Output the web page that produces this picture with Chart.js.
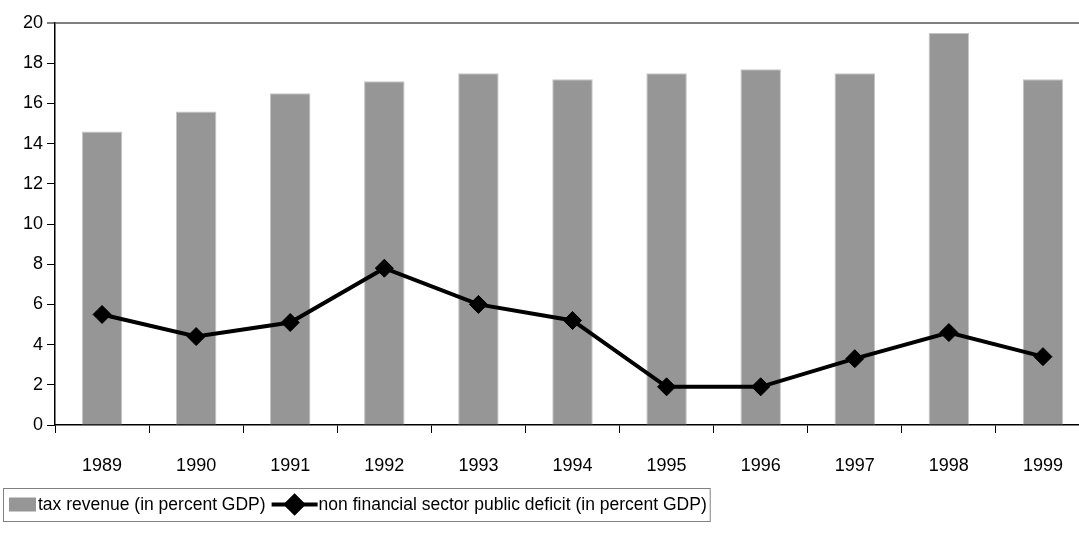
<!DOCTYPE html>
<html>
<head>
<meta charset="utf-8">
<script src="https://cdn.jsdelivr.net/npm/chart.js@4"></script>
<style>
  html, body { margin:0; padding:0; background:#fff; overflow:hidden; }
  #wrap { width:1079px; height:533px; overflow:hidden; }
  canvas { display:block; }
</style>
</head>
<body>
<div id="wrap"><canvas id="ch" width="1100" height="533"></canvas></div>
<script>
const years = ['1989','1990','1991','1992','1993','1994','1995','1996','1997','1998','1999'];
const taxRevenue = [14.6, 15.6, 16.5, 17.1, 17.5, 17.2, 17.5, 17.7, 17.5, 19.5, 17.2];
const publicDeficit = [5.5, 4.4, 5.1, 7.8, 6.0, 5.2, 1.9, 1.9, 3.3, 4.6, 3.4];
const yTicks = [0, 2, 4, 6, 8, 10, 12, 14, 16, 18, 20];

const FAMILY = '"Liberation Sans", Arial, sans-serif';
const TICK_FONT = { family:FAMILY, size:18 };
const LEGEND_SIZE = 17.5;
const BAR_GRAY = '#969696';

// framed legend under the axis: bar swatch first, then the line with a diamond
const boxLegend = {
  id:'boxLegend',
  afterDraw(chart){
    const ctx = chart.ctx;
    const bar = chart.data.datasets.find(d => d.type === 'bar');
    const line = chart.data.datasets.find(d => d.type === 'line');
    const x0 = 4, y0 = 488, h = 33, cy = y0 + h/2;
    ctx.save();
    ctx.font = LEGEND_SIZE + 'px ' + FAMILY;
    ctx.textBaseline = 'middle';
    let x = x0 + 5;
    ctx.fillStyle = BAR_GRAY;
    ctx.fillRect(x, cy - 7, 27, 14);
    x += 29;
    ctx.fillStyle = '#000';
    ctx.fillText(bar.label, x, cy + 1);
    x += ctx.measureText(bar.label).width + 6;
    ctx.strokeStyle = '#000';
    ctx.lineWidth = 4;
    ctx.beginPath(); ctx.moveTo(x, cy); ctx.lineTo(x + 46, cy); ctx.stroke();
    Chart.helpers.drawPoint(ctx, { pointStyle:'rectRot', radius:8.5, rotation:0, borderWidth:1 }, x + 23, cy);
    ctx.fill();
    x += 47;
    ctx.fillText(line.label, x, cy + 1);
    x += ctx.measureText(line.label).width + 4;
    ctx.strokeStyle = '#808080';
    ctx.lineWidth = 1;
    ctx.strokeRect(x0 - 0.5, y0 + 0.5, x - x0, h);
    ctx.restore();
  }
};

new Chart(document.getElementById('ch'), {
  data:{
    labels: years,
    datasets:[
      { type:'line', label:'non financial sector public deficit (in percent GDP)', data: publicDeficit,
        borderColor:'#000', borderWidth:4, tension:0, fill:false,
        pointStyle:'rectRot', pointRadius:9, pointBackgroundColor:'#000', pointBorderColor:'#000', pointBorderWidth:1, order:0 },
      { type:'bar', label:'tax revenue (in percent GDP)', data: taxRevenue,
        backgroundColor: BAR_GRAY, borderColor:'#c4c4c4', borderWidth:1, borderSkipped:'bottom',
        categoryPercentage:1, barPercentage:0.43, order:1 }
    ]
  },
  options:{
    responsive:false, animation:false, devicePixelRatio:1,
    layout:{ padding:{ top:23, right:7, left:0, bottom:0 } },
    plugins:{ legend:{ display:false }, tooltip:{ enabled:false } },
    scales:{
      x:{
        offset:true,
        grid:{ offset:true, drawOnChartArea:false, tickLength:8, tickColor:'#000', tickWidth:1 },
        border:{ display:true, color:'#000', width:1.5 },
        ticks:{ color:'#000', font:TICK_FONT, padding:22, maxRotation:0, autoSkip:false },
        afterFit(s){ s.height = 108; }
      },
      y:{
        min:0, max:20,
        afterBuildTicks(s){ s.ticks = yTicks.map(v => ({ value:v })); },
        grid:{
          drawOnChartArea:true,
          color: c => (c.tick && c.tick.value === 20) ? '#808080' : 'rgba(0,0,0,0)',
          lineWidth: c => (c.tick && c.tick.value === 20) ? 2 : 1,
          tickLength:8, tickColor:'#000', tickWidth:1
        },
        border:{ display:true, color:'#000', width:1.5 },
        ticks:{ color:'#000', font:TICK_FONT, padding:4 },
        afterFit(s){ s.width = 55; }
      }
    }
  },
  plugins:[boxLegend]
});
</script>
</body>
</html>
